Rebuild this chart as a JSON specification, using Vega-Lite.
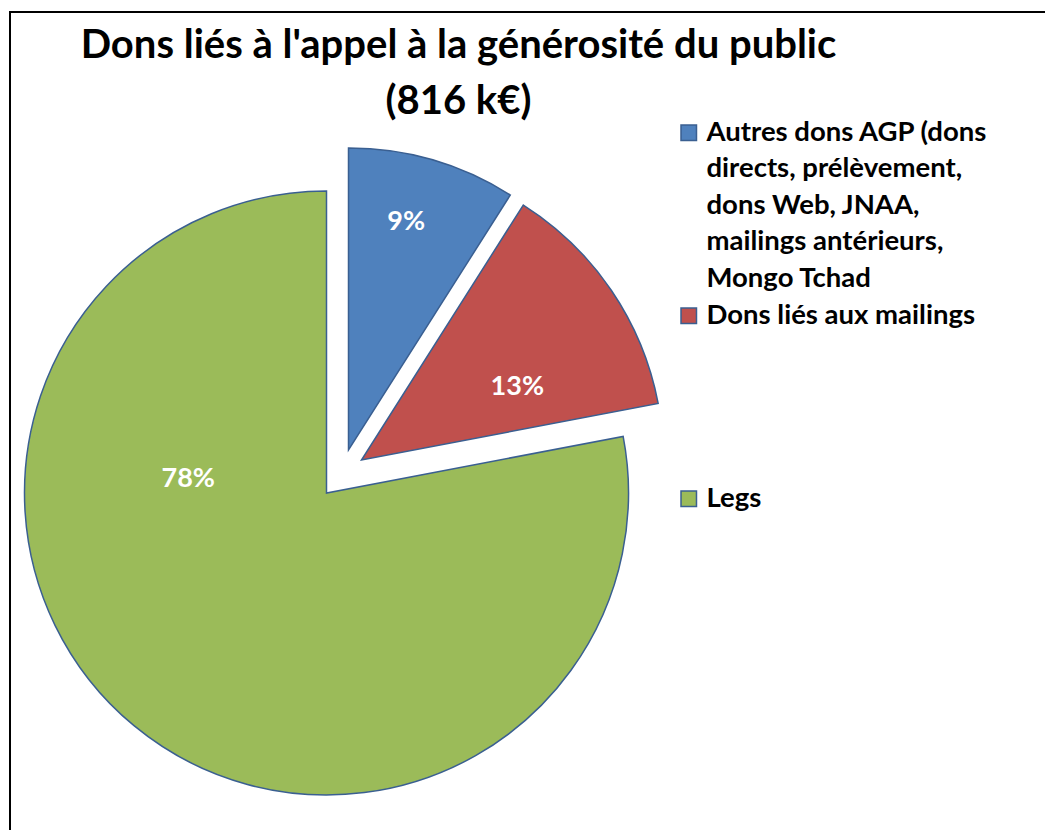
{
  "$schema": "https://vega.github.io/schema/vega-lite/v6.json",
  "width": 1035,
  "height": 818,
  "autosize": {"type": "none"},
  "padding": {"left": 10, "top": 12, "right": 0, "bottom": 0},
  "background": "white",
  "config": {"view": {"stroke": null}, "font": "Lato"},
  "title": {
    "text": ["Dons liés à l'appel à la générosité du public", "(816 k€)"],
    "font": "Lato",
    "fontSize": 40,
    "fontWeight": "bold",
    "color": "black",
    "lineHeight": 56,
    "anchor": "middle",
    "frame": "group",
    "dx": -69,
    "dy": 115
  },
  "data": {
    "values": [
      {"categorie": "Autres dons AGP (dons directs, prélèvement, dons Web, JNAA, mailings antérieurs, Mongo Tchad", "part": 0.09},
      {"categorie": "Dons liés aux mailings", "part": 0.13},
      {"categorie": "Legs", "part": 0.78}
    ]
  },
  "layer": [
    {
      "mark": {"type": "arc", "radius": 302, "stroke": "#3A5F91", "strokeWidth": 1.5, "xOffset": -201, "yOffset": 72},
      "encoding": {
        "theta": {"field": "part", "type": "quantitative", "stack": true},
        "order": {"field": "categorie", "type": "ordinal", "sort": "ascending"},
        "color": {
          "field": "categorie",
          "type": "nominal",
          "scale": {
            "domain": ["Autres dons AGP (dons directs, prélèvement, dons Web, JNAA, mailings antérieurs, Mongo Tchad", "Dons liés aux mailings", "Legs"],
            "range": ["#4F81BD", "#C0504D", "#9BBB59"]
          },
          "legend": {
            "title": null,
            "orient": "none",
            "legendX": 665,
            "legendY": 107,
            "padding": 0,
            "symbolType": "square",
            "symbolSize": 240,
            "symbolStrokeColor": "#3A5F91",
            "symbolStrokeWidth": 1.5,
            "symbolOpacity": 1,
            "labelFont": "Lato",
            "labelFontSize": 27.5,
            "labelFontWeight": "bold",
            "labelColor": "black",
            "labelLimit": 0,
            "labelOffset": 4,
            "rowPadding": 8,
            "labelExpr": "datum.value == 'Legs' ? 'Legs' : datum.value == 'Dons liés aux mailings' ? ['Dons liés aux mailings', '', '', '', ''] : ['Autres dons AGP (dons', 'directs, prélèvement,', 'dons Web, JNAA,', 'mailings antérieurs,', 'Mongo Tchad']",
            "encode": {"labels": {"update": {"lineHeight": {"value": 36.5}}}}
          }
        },
        "opacity": {"condition": {"test": "datum.categorie === 'Legs'", "value": 1}, "value": 0}
      }
    },
    {
      "mark": {"type": "arc", "radius": 302, "stroke": "#3A5F91", "strokeWidth": 1.5, "xOffset": -179, "yOffset": 29},
      "encoding": {
        "theta": {"field": "part", "type": "quantitative", "stack": true},
        "order": {"field": "categorie", "type": "ordinal", "sort": "ascending"},
        "color": {"field": "categorie", "type": "nominal"},
        "opacity": {"condition": {"test": "datum.categorie === 'Autres dons AGP (dons directs, prélèvement, dons Web, JNAA, mailings antérieurs, Mongo Tchad'", "value": 1}, "value": 0}
      }
    },
    {
      "mark": {"type": "arc", "radius": 302, "stroke": "#3A5F91", "strokeWidth": 1.5, "xOffset": -166, "yOffset": 39},
      "encoding": {
        "theta": {"field": "part", "type": "quantitative", "stack": true},
        "order": {"field": "categorie", "type": "ordinal", "sort": "ascending"},
        "color": {"field": "categorie", "type": "nominal"},
        "opacity": {"condition": {"test": "datum.categorie === 'Dons liés aux mailings'", "value": 1}, "value": 0}
      }
    },
    {
      "mark": {"type": "text", "radius": 139, "thetaOffset": 0.98, "font": "Lato", "fontSize": 27, "fontWeight": "bold", "color": "white", "xOffset": -201, "yOffset": 72},
      "encoding": {
        "theta": {"field": "part", "type": "quantitative", "stack": true},
        "order": {"field": "categorie", "type": "ordinal", "sort": "ascending"},
        "text": {"field": "part", "type": "quantitative", "format": ".0%"},
        "opacity": {"condition": {"test": "datum.categorie === 'Legs'", "value": 1}, "value": 0}
      }
    },
    {
      "mark": {"type": "text", "radius": 235, "thetaOffset": -0.035, "font": "Lato", "fontSize": 27, "fontWeight": "bold", "color": "white", "xOffset": -179, "yOffset": 29},
      "encoding": {
        "theta": {"field": "part", "type": "quantitative", "stack": true},
        "order": {"field": "categorie", "type": "ordinal", "sort": "ascending"},
        "text": {"field": "part", "type": "quantitative", "format": ".0%"},
        "opacity": {"condition": {"test": "datum.categorie === 'Autres dons AGP (dons directs, prélèvement, dons Web, JNAA, mailings antérieurs, Mongo Tchad'", "value": 1}, "value": 0}
      }
    },
    {
      "mark": {"type": "text", "radius": 172, "thetaOffset": 0.16, "font": "Lato", "fontSize": 27, "fontWeight": "bold", "color": "white", "xOffset": -166, "yOffset": 39},
      "encoding": {
        "theta": {"field": "part", "type": "quantitative", "stack": true},
        "order": {"field": "categorie", "type": "ordinal", "sort": "ascending"},
        "text": {"field": "part", "type": "quantitative", "format": ".0%"},
        "opacity": {"condition": {"test": "datum.categorie === 'Dons liés aux mailings'", "value": 1}, "value": 0}
      }
    },
    {
      "data": {"values": [{"cadre": "bordure"}]},
      "mark": {"type": "rect", "fill": "transparent", "stroke": "black", "strokeWidth": 2, "x": 0, "y": 0, "x2": {"expr": "width + 12"}, "y2": {"expr": "height + 12"}},
      "encoding": {}
    }
  ]
}
